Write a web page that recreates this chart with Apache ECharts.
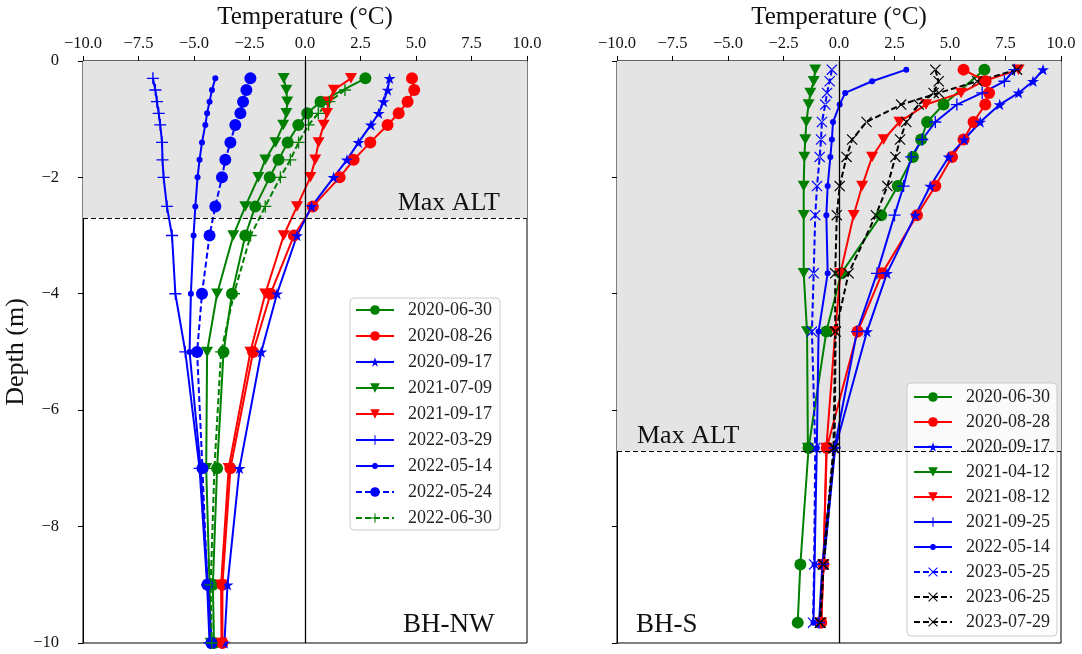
<!DOCTYPE html>
<html><head><meta charset="utf-8">
<script src="https://cdn.jsdelivr.net/npm/echarts@6/dist/echarts.min.js"></script>
<style>html,body{margin:0;padding:0;background:#fff}#c{width:1082px;height:654px}</style>
</head><body><div id="c"></div>
<script>
// ---------- DATA ----------
const xMin = -10, xMax = 10, xStep = 2.5;
const yMin = -10, yMax = 0, yStep = 2;
const altNW = -2.7;   // Max ALT, BH-NW
const altS = -6.7;    // Max ALT, BH-S

// BH-NW depths (m)
const depthNW = [0.3, 0.5, 0.7, 0.9, 1.1, 1.4, 1.7, 2.0, 2.5, 3.0, 4.0, 5.0, 7.0, 9.0, 10.0];
const nw_20200630 = [2.72, null, 0.70, 0.10, -0.30, -0.78, -1.19, -1.59, -2.24, -2.69, -3.29, -3.67, -3.96, -4.15, -4.10];
const nw_20200826 = [4.82, 4.92, 4.62, 4.22, 3.72, 2.94, 2.19, 1.56, 0.35, -0.50, -1.55, -2.34, -3.36, -3.72, -3.72];
const nw_20200917 = [3.81, 3.72, 3.54, 3.32, 2.97, 2.41, 1.89, 1.29, 0.30, -0.36, -1.26, -1.97, -2.95, -3.49, -3.63];
const nw_20210709 = [-0.96, -0.84, -0.80, -0.84, -0.98, -1.33, -1.79, -2.10, -2.69, -3.23, -3.96, -4.41, -4.45, -4.30, -4.25];
const nw_20210917 = [2.07, 1.30, 1.06, 0.99, 0.84, 0.61, 0.46, 0.24, -0.36, -0.96, -1.79, -2.46, -3.44, -3.78, -3.76];
const nw_20220329 = [-6.85, -6.74, -6.67, -6.59, -6.52, -6.44, -6.42, -6.37, -6.22, -5.99, -5.84, -5.39, -4.75, -4.41, -4.30];
const nw_20220514 = [-4.04, -4.19, -4.30, -4.41, -4.49, -4.64, -4.75, -4.84, -4.94, -5.02, -5.14, -5.20, -4.70, -4.38, -4.20];
const nw_20220524 = [-2.46, -2.64, -2.79, -2.91, -3.14, -3.36, -3.59, -3.74, -4.04, -4.30, -4.64, -4.86, -4.62, -4.40, -4.22];
const nw_20220630 = [null, 1.80, 1.10, 0.60, 0.16, -0.29, -0.66, -1.11, -1.79, -2.45, -3.20, -3.78, -4.08, -4.25, -4.20];

// BH-S depths (m)
const depthS = [0.15, 0.35, 0.55, 0.75, 1.05, 1.35, 1.65, 2.15, 2.65, 3.65, 4.65, 6.65, 8.65, 9.65];
const s_20200630 = [6.55, null, null, 4.71, 3.97, 3.70, 3.33, 2.65, 1.90, 0.10, -0.57, -1.37, -1.74, -1.86];
const s_20200828 = [5.61, 6.60, 6.76, 6.59, 6.06, 5.61, 5.09, 4.34, 3.51, 1.94, 0.84, -0.55, -0.70, -0.80];
const s_20200917 = [9.19, 8.74, 8.09, 7.24, 6.36, 5.64, 4.94, 4.11, 3.44, 2.16, 1.26, -0.17, -0.69, -0.87];
const s_20210412 = [-1.07, -1.14, -1.29, -1.37, -1.47, -1.52, -1.56, -1.59, -1.59, -1.59, -1.44, -1.40, null, null];
const s_20210812 = [8.09, 6.50, 5.50, 3.92, 2.72, 2.01, 1.49, 1.04, 0.66, 0.06, -0.17, -0.57, -0.70, -0.80];
const s_20210925 = [7.90, 7.45, 6.45, 5.31, 4.34, 3.75, 3.25, 2.91, 2.50, 1.71, 0.81, -0.20, -0.75, -0.90];
const s_20220514 = [3.03, 1.49, 0.28, 0.03, -0.27, -0.32, -0.39, -0.51, -0.57, -0.51, -0.92, -1.00, -1.10, -1.15];
const s_20230525 = [-0.32, -0.42, -0.54, -0.62, -0.77, -0.81, -0.87, -0.99, -1.07, -1.14, -1.22, -1.07, -1.12, -1.17];
const s_20230625 = [4.34, 4.49, 4.26, 3.59, 3.03, 2.75, 2.54, 2.18, 1.66, 0.43, -0.15, -0.20, -0.69, -0.84];
const s_20230729 = [8.02, 6.22, 4.50, 2.80, 1.24, 0.59, 0.34, 0.03, -0.10, -0.17, -0.17, -0.25, -0.72, -0.86];

const namesNW = ['2020-06-30','2020-08-26','2020-09-17','2021-07-09','2021-09-17','2022-03-29','2022-05-14','2022-05-24','2022-06-30'];
const namesS = ['2020-06-30','2020-08-28','2020-09-17','2021-04-12','2021-08-12','2021-09-25','2022-05-14','2023-05-25','2023-06-25','2023-07-29'];

// ---------- STYLE ----------
const FONT = 'Liberation Serif';
const G = '#008000', R = '#ff0000', B = '#0000ff', K = '#000000';
const SYM = {
  circle: 'circle',
  tri: 'path://M-1,-0.8 L1,-0.8 L0,0.95 Z',
  star: 'path://M0,-1 L0.2245,-0.309 L0.951,-0.309 L0.363,0.118 L0.588,0.809 L0,0.382 L-0.588,0.809 L-0.363,0.118 L-0.951,-0.309 L-0.2245,-0.309 Z',
  plus: 'path://M-1,-0.11 L1,-0.11 L1,0.11 L-1,0.11 Z M-0.11,-1 L0.11,-1 L0.11,1 L-0.11,1 Z',
  x: 'path://M-1,-0.85 L-0.85,-1 L1,0.85 L0.85,1 Z M1,-0.85 L0.85,-1 L-1,0.85 L-0.85,1 Z'
};
// legend icon for the small-dot series: line + small dot (38x12 box)
const SMALL_DOT_ICON = 'path://M0,0 L0.2,0 L0.2,0.2 Z M38,12 L37.8,12 L37.8,11.8 Z ' +
  'M0,5 L38,5 L38,7 L0,7 Z ' +
  'M19,2.8 L21.26,3.74 L22.2,6 L21.26,8.26 L19,9.2 L16.74,8.26 L15.8,6 L16.74,3.74 Z';

function mk(name, g, depths, temps, color, sym, size, dashed) {
  const data = [];
  depths.forEach((d, i) => { if (temps[i] !== null) data.push([temps[i], -d]); });
  return {
    type: 'line', name, xAxisIndex: g, yAxisIndex: g, data,
    symbol: SYM[sym], symbolSize: size, symbolKeepAspect: true,
    lineStyle: { color, width: 2, type: dashed ? [6, 3] : 'solid' },
    itemStyle: { color, borderWidth: 0 },
    emphasis: { disabled: true }, silent: true, z: 3
  };
}

function frame(g, alt, labelPos, dist) {
  return {
    type: 'line', xAxisIndex: g, yAxisIndex: g, data: [], silent: true, z: 1,
    markArea: { silent: true, itemStyle: { color: '#e4e4e4' },
      data: [[{ coord: [xMin, yMax] }, { coord: [xMax, alt] }]] },
    markLine: { silent: true, symbol: 'none', animation: false,
      data: [
        { yAxis: alt, lineStyle: { color: K, type: [5, 3], width: 1.2 },
          label: { show: true, formatter: 'Max ALT', position: labelPos, fontFamily: FONT, fontSize: 26, color: '#111', distance: [dist, 2] } },
        { xAxis: 0, lineStyle: { color: K, type: 'solid', width: 1.3 }, label: { show: false } }
      ] }
  };
}

const series = [
  frame(0, altNW, 'insideEndTop', 27),
  frame(1, altS, 'insideStartTop', 20),
  mk(namesNW[0], 0, depthNW, nw_20200630, G, 'circle', 12, false),
  mk(namesNW[1], 0, depthNW, nw_20200826, R, 'circle', 12, false),
  mk(namesNW[2], 0, depthNW, nw_20200917, B, 'star', 12, false),
  mk(namesNW[3], 0, depthNW, nw_20210709, G, 'tri', 12, false),
  mk(namesNW[4], 0, depthNW, nw_20210917, R, 'tri', 12, false),
  mk(namesNW[5], 0, depthNW, nw_20220329, B, 'plus', 12, false),
  mk(namesNW[6], 0, depthNW, nw_20220514, B, 'circle', 6, false),
  mk(namesNW[7], 0, depthNW, nw_20220524, B, 'circle', 12, true),
  mk(namesNW[8], 0, depthNW, nw_20220630, G, 'plus', 12, true),
  mk(namesS[0], 1, depthS, s_20200630, G, 'circle', 12, false),
  mk(namesS[1], 1, depthS, s_20200828, R, 'circle', 12, false),
  mk(namesS[2], 1, depthS, s_20200917, B, 'star', 12, false),
  mk(namesS[3], 1, depthS, s_20210412, G, 'tri', 12, false),
  mk(namesS[4], 1, depthS, s_20210812, R, 'tri', 12, false),
  mk(namesS[5], 1, depthS, s_20210925, B, 'plus', 12, false),
  mk(namesS[6], 1, depthS, s_20220514, B, 'circle', 6, false),
  mk(namesS[7], 1, depthS, s_20230525, B, 'x', 11, true),
  mk(namesS[8], 1, depthS, s_20230625, K, 'x', 11, true),
  mk(namesS[9], 1, depthS, s_20230729, K, 'x', 11, true)
];

const fmtX = v => (v < 0 ? '\u2212' : '') + Math.abs(v).toFixed(1);
const fmtY = v => (v < 0 ? '\u2212' : '') + Math.abs(v);

function xAx(g) {
  return {
    gridIndex: g, type: 'value', position: 'top', min: xMin, max: xMax, interval: xStep,
    name: 'Temperature (\u00B0C)', nameLocation: 'middle', nameGap: 30,
    nameTextStyle: { fontFamily: FONT, fontSize: 25, color: '#111' },
    axisLine: { show: true, onZero: false, lineStyle: { color: '#000', width: 1 } },
    axisTick: { show: true, inside: false, length: 5, lineStyle: { color: '#000' } },
    axisLabel: { show: true, formatter: fmtX, fontFamily: FONT, fontSize: 16.5, color: '#111', margin: 9 },
    splitLine: { show: false }
  };
}
function yAx(g, labels) {
  return {
    gridIndex: g, type: 'value', min: yMin, max: yMax, interval: yStep,
    name: labels ? 'Depth (m)' : '', nameLocation: 'middle', nameGap: 52,
    nameTextStyle: { fontFamily: FONT, fontSize: 26, color: '#111' },
    axisLine: { show: true, onZero: false, lineStyle: { color: '#000', width: 1 } },
    axisTick: { show: true, inside: false, length: 5, lineStyle: { color: '#000' } },
    axisLabel: { show: labels, formatter: fmtY, fontFamily: FONT, fontSize: 16.5, color: '#111', margin: 24 },
    splitLine: { show: false }
  };
}

function leg(names, left, top, pad, gap) {
  return {
    data: names.map(n => n === '2022-05-14' ? { name: n, icon: SMALL_DOT_ICON } : { name: n }),
    left, top, orient: 'vertical', selectedMode: false,
    itemWidth: 38, itemHeight: 12, itemGap: gap,
    padding: pad, backgroundColor: 'rgba(255,255,255,0.8)',
    borderColor: '#cccccc', borderWidth: 1, borderRadius: 4,
    textStyle: { fontFamily: FONT, fontSize: 18, color: '#222', lineHeight: 18, padding: [0, 0, 0, 9] }
  };
}

const option = {
  animation: false,
  backgroundColor: '#fff',
  grid: [
    { left: 83, top: 60.5, width: 444, height: 582.5, show: true, borderColor: '#000', borderWidth: 1, backgroundColor: 'transparent' },
    { left: 617, top: 60.5, width: 444, height: 582.5, show: true, borderColor: '#000', borderWidth: 1, backgroundColor: 'transparent' }
  ],
  xAxis: [xAx(0), xAx(1)],
  yAxis: [yAx(0, true), yAx(1, false)],
  legend: [
    leg(namesNW, 350, 298, [3, 8, 3, 5], 8),
    leg(namesS, 907, 383, [5, 7, 5, 6], 7)
  ],
  graphic: [
    { type: 'text', left: 403, top: 611, style: { text: 'BH-NW', font: '27px "Liberation Serif"', fill: '#111' } },
    { type: 'text', left: 636, top: 611, style: { text: 'BH-S', font: '27px "Liberation Serif"', fill: '#111' } }
  ],
  series
};

const chart = echarts.init(document.getElementById('c'), null, { renderer: 'canvas' });
chart.setOption(option);
</script>
</body></html>
